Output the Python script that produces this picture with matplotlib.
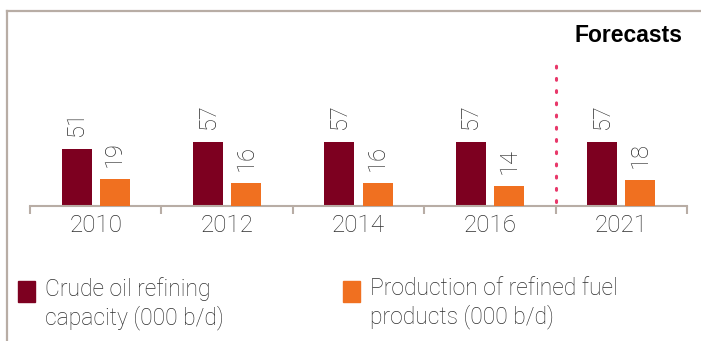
import matplotlib.pyplot as plt
from matplotlib.lines import Line2D
from matplotlib.patches import Rectangle

years = ["2010", "2012", "2014", "2016", "2021"]
crude_capacity = [51, 57, 57, 57, 57]
refined_products = [19, 16, 16, 14, 18]
legend_labels = ["Crude oil refining\ncapacity (000 b/d)",
                 "Production of refined fuel\nproducts (000 b/d)"]

DARK_RED = "#7D0020"
ORANGE = "#F07020"
BORDER = "#B8ADA5"
TEXT = "#2E2E2E"
FONT = ["Roboto", "DejaVu Sans"]

W, H = 701, 341
fig = plt.figure(figsize=(W / 100, H / 100), dpi=100)

# axes: x from 30px to 687px, baseline at y=206px, top at y=11px
left, right, base, top = 30, 687, 206, 11
ax = fig.add_axes([left / W, (H - base) / H, (right - left) / W, (base - top) / H])
ax2 = ax.twinx()

x = list(range(len(years)))
bw = 0.228
off = 0.145
b1 = ax.bar([i - off for i in x], crude_capacity, bw, color=DARK_RED)
b2 = ax2.bar([i + off for i in x], refined_products, bw, color=ORANGE)

# the two series are drawn on slightly different scales in the original
ax.set_ylim(0, (base - top) / 1.123)
ax2.set_ylim(0, (base - top) / 1.42)

for a in (ax, ax2):
    a.set_xlim(-0.5, len(years) - 0.5)
    a.set_yticks([])
    for s in a.spines.values():
        s.set_visible(False)
ax.spines["bottom"].set_visible(True)
ax.spines["bottom"].set_color(BORDER)
ax.spines["bottom"].set_linewidth(1.5)

ax.set_xticks(x)
ax.set_xticklabels(years, fontsize=17.5, color=TEXT, family=FONT, fontweight="light")
ax.tick_params(axis="x", which="major", length=0, pad=6)
ax.set_xticks([i - 0.5 for i in range(len(years) + 1)], minor=True)
ax.tick_params(axis="x", which="minor", length=6, width=1.5, color=BORDER)
ax2.tick_params(axis="x", which="both", length=0)

for bars, a in ((b1, ax), (b2, ax2)):
    for r in bars:
        a.annotate(f"{r.get_height():g}", (r.get_x() + r.get_width() / 2, r.get_height()),
                   xytext=(0, 9), textcoords="offset points", rotation=90,
                   ha="center", va="bottom", fontsize=17, color=TEXT,
                   family=FONT, fontweight="light")

# forecast divider
ax.axvline(3.5, ymin=0.02, ymax=0.74, color="#E8386A", linestyle=(0, (0.6, 3.4)),
           linewidth=2.2, dash_capstyle="round")

fig.text(682 / W, 1 - 35 / H, "Forecasts", ha="right", va="center",
         fontsize=16.5, fontweight="bold", family="Liberation Sans", color="black")

# outer frame (top and left)
fig.add_artist(Line2D([7 / W, 1], [1 - 11 / H, 1 - 11 / H], color=BORDER, lw=1.6))
fig.add_artist(Line2D([7 / W, 7 / W], [0, 1 - 11 / H], color=BORDER, lw=1.6))

# legend
for (px, color, label) in ((18, DARK_RED, legend_labels[0]), (343, ORANGE, legend_labels[1])):
    fig.add_artist(Rectangle((px / W, 1 - 302 / H), 17 / W, 21 / H,
                             color=color, transform=fig.transFigure))
    fig.text((px + 27) / W, 1 - 277 / H, label, ha="left", va="top",
             fontsize=16.5, color=TEXT, family=FONT, fontweight="light", linespacing=1.22)

fig.savefig("out.png", dpi=100)
